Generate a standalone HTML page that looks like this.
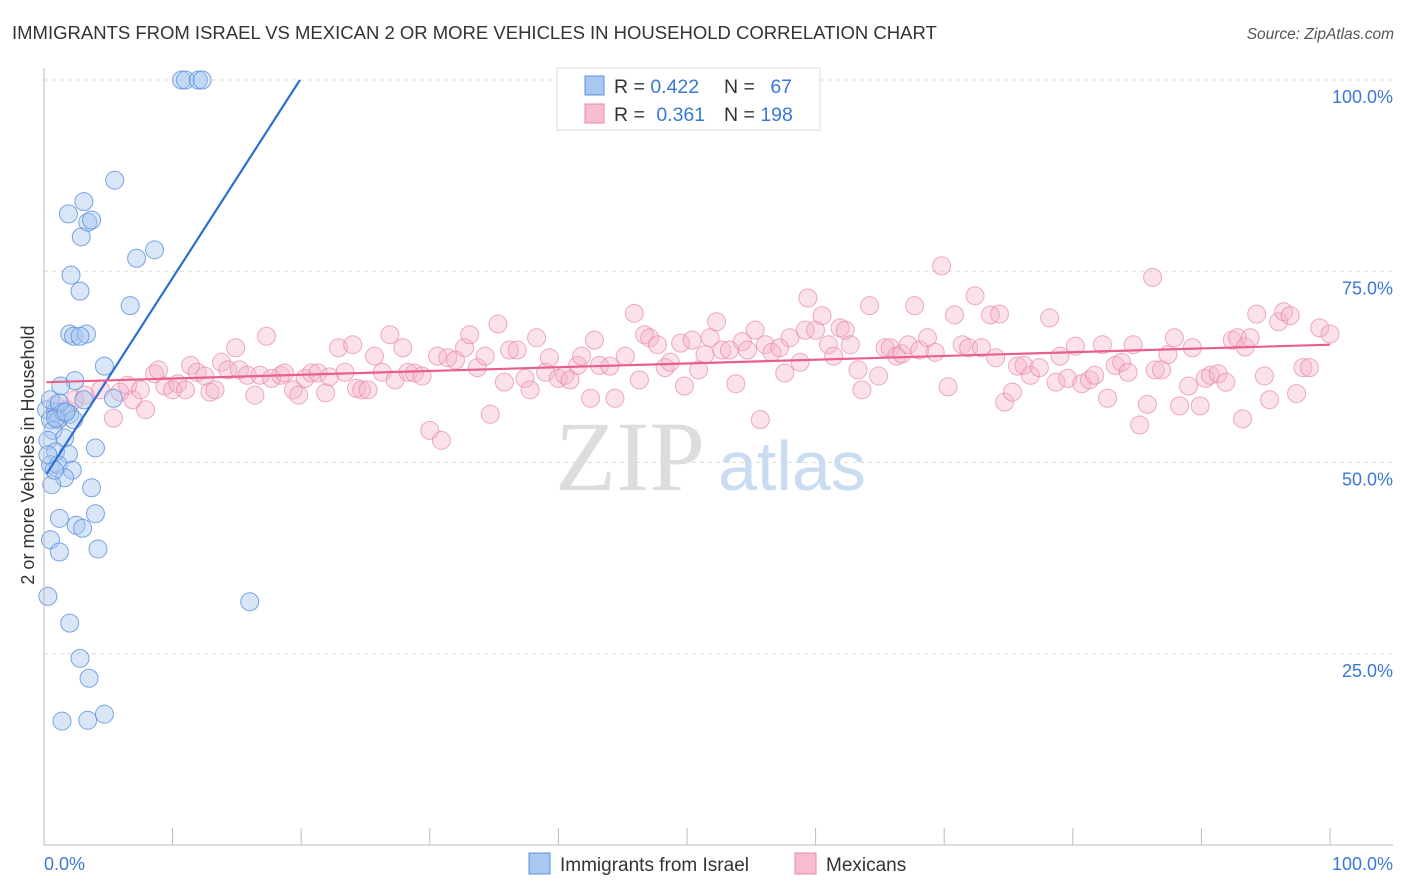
<!DOCTYPE html>
<html><head><meta charset="utf-8"><style>
body{margin:0;background:#fff;font-family:"Liberation Sans",sans-serif;}
svg{display:block}
</style></head><body>
<svg id="chart" width="1406" height="892">
<text x="12" y="39" font-size="18.5" fill="#333">IMMIGRANTS FROM ISRAEL VS MEXICAN 2 OR MORE VEHICLES IN HOUSEHOLD CORRELATION CHART</text>
<text x="1394" y="39" font-size="15.5" fill="#555" font-style="italic" text-anchor="end">Source: ZipAtlas.com</text>
<g id="grid"></g>
<g><text x="555" y="490" font-size="100" font-family="Liberation Serif,serif" fill="#ddd">ZIP</text><text x="718" y="490" font-size="70" fill="#c9dcf2">atlas</text></g>
<g id="pts"></g>
<g id="trend"></g>
<g id="axes"></g>
<text x="34" y="455" font-size="18" fill="#333" text-anchor="middle" transform="rotate(-90 34 455)">2 or more Vehicles in Household</text>
<g>
<rect x="557" y="68" width="263" height="62" fill="#fff" stroke="#ddd"/>
<rect x="585" y="76" width="19" height="19" fill="#a8c8f0" stroke="#5a90dc"/>
<rect x="585" y="104" width="19" height="19" fill="#f6bccf" stroke="#e888a8"/>
<text x="614" y="93" font-size="19.5" fill="#333">R = <tspan fill="#3a78d6">0.422</tspan></text>
<text x="724" y="93" font-size="19.5" fill="#333">N = <tspan fill="#3a78d6" dx="10">67</tspan></text>
<text x="614" y="121" font-size="19.5" fill="#333">R = <tspan fill="#3a78d6" dx="6">0.361</tspan></text>
<text x="724" y="121" font-size="19.5" fill="#333">N = <tspan fill="#3a78d6">198</tspan></text>
</g>
<g>
<rect x="529" y="853" width="21" height="21" fill="#a8c8f0" stroke="#5a90dc"/>
<text x="560" y="871" font-size="19" fill="#333">Immigrants from Israel</text>
<rect x="795" y="853" width="21" height="21" fill="#f6bccf" stroke="#e888a8"/>
<text x="826" y="871" font-size="19" fill="#333">Mexicans</text>
</g>
</svg>
<script>
const yTicks=[25,50,75,100];
const yTickLabels=["25.0%","50.0%","75.0%","100.0%"];
const xTicks=[0,10,20,30,40,50,60,70,80,90,100];
const blueX=[10.7,11.0,12.0,12.3,5.5,3.1,1.9,3.4,3.7,2.9,8.6,7.2,2.1,2.8,6.7,2.0,2.3,3.3,2.8,4.7,2.4,1.3,0.2,0.9,0.5,1.1,1.5,2.0,2.3,0.7,1.6,0.3,4.0,0.9,1.9,0.5,1.1,2.2,1.6,0.6,3.7,1.2,2.5,3.0,4.0,0.5,4.2,1.2,0.3,16.0,2.0,2.8,3.5,1.4,3.4,4.7,0.8,0.5,0.9,1.2,3.1,5.4,1.7,0.3];
const blueY=[100,100,100,100,86.9,84.1,82.5,81.4,81.7,79.5,77.8,76.7,74.5,72.4,70.5,66.8,66.5,66.8,66.5,62.6,60.7,60.0,56.9,56.6,55.6,55.6,56.6,56.3,55.6,54.2,53.2,52.9,51.9,51.4,51.1,49.7,49.7,49.0,48.0,47.1,46.7,42.7,41.8,41.4,43.3,39.9,38.7,38.3,32.5,31.8,29.0,24.4,21.8,16.2,16.3,17.1,49.0,58.2,55.8,57.8,58.2,58.4,56.6,51.0];
const pinkX=[0.9,1.2,1.8,2.4,3.2,4.4,5.4,5.9,6.5,6.9,7.5,7.9,8.6,8.9,9.4,10.0,10.4,11.0,11.4,11.9,12.5,12.9,13.3,13.8,14.3,14.9,15.2,15.8,16.4,16.8,17.3,17.7,18.4,18.7,19.4,19.8,20.3,20.8,21.3,21.9,22.2,22.9,23.4,24.0,24.3,24.7,25.2,25.7,26.3,26.9,27.3,27.9,28.3,28.8,29.4,30.0,30.6,30.9,31.4,32.0,32.7,33.1,33.7,34.3,34.7,35.3,35.8,36.2,36.8,37.4,37.8,38.3,39.0,39.3,40.0,40.5,40.9,41.5,41.8,42.5,42.8,43.2,44.0,44.4,45.2,45.9,46.3,46.7,47.1,47.7,48.3,48.7,49.5,49.8,50.4,50.9,51.4,51.8,52.3,52.7,53.3,53.8,54.3,54.7,55.3,55.7,56.1,56.6,57.2,57.6,58.0,58.8,59.2,59.4,60.0,60.5,61.0,61.4,61.9,62.3,62.7,63.3,63.6,64.2,64.9,65.4,65.8,66.3,66.7,67.2,67.7,68.1,68.7,69.3,69.8,70.3,70.8,71.4,71.9,72.4,72.9,73.6,74.0,74.3,74.7,75.3,75.7,76.2,76.7,77.4,78.2,78.7,79.0,79.6,80.2,80.7,81.3,81.7,82.3,82.7,83.3,83.8,84.3,84.7,85.2,85.8,86.2,86.4,86.9,87.4,87.9,88.3,89.0,89.3,89.9,90.3,90.7,91.3,91.9,92.4,92.8,93.2,93.4,93.8,94.3,94.9,95.3,96.0,96.4,96.9,97.4,97.9,98.4,99.2,100.0];
const pinkY=[57.5,55.8,56.9,58.2,58.8,59.5,55.8,59.2,60.1,58.2,59.5,56.9,61.6,62.1,60.0,59.5,60.3,59.5,62.7,61.8,61.3,59.2,59.5,63.1,62.1,65.0,62.1,61.4,58.8,61.4,66.5,61.0,61.4,61.7,59.5,58.8,61.0,61.7,61.7,59.1,61.2,65.0,61.8,65.4,59.7,59.5,59.5,63.9,61.8,66.7,60.8,65.0,61.8,61.7,61.3,54.2,63.9,52.9,63.7,63.4,65.0,66.7,62.4,63.9,56.3,68.1,60.5,64.7,64.7,61.0,59.5,66.3,61.8,63.7,61.0,61.4,60.8,62.7,63.9,58.4,66.0,62.7,62.6,58.4,63.9,69.5,60.8,66.7,66.3,65.4,62.4,63.1,65.6,60.0,66.0,62.1,64.1,66.3,68.4,64.7,64.7,60.3,65.8,64.7,67.3,55.6,65.4,64.4,65.0,61.7,66.3,63.1,67.3,71.5,67.3,69.2,65.4,63.9,67.6,67.3,65.4,62.1,59.5,70.5,61.3,65.0,65.0,63.9,64.2,65.4,70.5,64.7,66.3,64.4,75.7,59.9,69.3,65.4,65.0,71.8,65.0,69.3,63.7,69.4,57.9,59.2,62.6,62.7,61.4,62.4,68.9,60.5,63.9,61.0,65.2,60.3,60.8,61.4,65.4,58.4,62.7,63.1,61.8,65.4,54.9,57.6,74.2,62.1,62.1,64.1,66.3,57.4,60.0,65.0,57.4,61.0,61.4,61.6,60.5,66.0,66.3,55.7,65.1,66.3,69.4,61.3,58.2,68.4,69.7,69.2,59.0,62.4,62.4,67.6,66.8];
const blueTrendX=[0.2,19.9];
const blueTrendY=[48.5,100];
const pinkTrendX=[0.2,100];
const pinkTrendY=[60.5,65.4];

const NS="http://www.w3.org/2000/svg";
const X0=44,X1=1330,Y0=845,Y1=80;
function sx(v){return X0+(X1-X0)*v/100;}
function sy(v){return Y0-(Y0-Y1)*v/100;}
function mk(tag,attrs,parent){const e=document.createElementNS(NS,tag);for(const k in attrs)e.setAttribute(k,attrs[k]);parent.appendChild(e);return e;}
const grid=document.getElementById('grid'),axes=document.getElementById('axes'),pts=document.getElementById('pts'),trend=document.getElementById('trend');
yTicks.forEach((t,i)=>{
  const l=mk('line',{x1:X0,x2:1393,y1:sy(t),y2:sy(t),stroke:'#ddd','stroke-dasharray':'4,4'},grid);
  
  
  const tx=mk('text',{x:1393,y:sy(t)+23,'font-size':18,fill:'#3a78d6','text-anchor':'end'},axes);
  tx.textContent=yTickLabels[i];
  
  
});
const ax=mk('line',{x1:X0,x2:1393,y1:Y0,y2:Y0,stroke:'#bbb'},axes);


const ay=mk('line',{x1:X0,x2:X0,y1:68,y2:Y0,stroke:'#bbb'},axes);


xTicks.forEach(t=>{
  const l=mk('line',{x1:sx(t),x2:sx(t),y1:828,y2:Y0,stroke:'#bbb'},axes);
  
  
});
const xl0=mk('text',{x:X0,y:870,'font-size':18,fill:'#3a78d6'},axes);xl0.textContent='0.0%';


const xl1=mk('text',{x:1393,y:870,'font-size':18,fill:'#3a78d6','text-anchor':'end'},axes);xl1.textContent='100.0%';


pinkX.forEach((v,i)=>{
  const c=mk('circle',{cx:sx(v),cy:sy(pinkY[i]),r:9,fill:'#f4b3c8','fill-opacity':0.38,stroke:'#e888a8','stroke-opacity':0.7},pts);
  
  
});
blueX.forEach((v,i)=>{
  const c=mk('circle',{cx:sx(v),cy:sy(blueY[i]),r:9,fill:'#a8c8f0','fill-opacity':0.45,stroke:'#5a90dc','stroke-opacity':0.8},pts);
  
  
});
const bl=mk('line',{x1:sx(blueTrendX[0]),y1:sy(blueTrendY[0]),x2:sx(blueTrendX[1]),y2:sy(blueTrendY[1]),stroke:'#2a6fd4','stroke-width':2.2},trend);


const pl=mk('line',{x1:sx(pinkTrendX[0]),y1:sy(pinkTrendY[0]),x2:sx(pinkTrendX[1]),y2:sy(pinkTrendY[1]),stroke:'#e8608a','stroke-width':2.2},trend);


</script>
</body></html>
